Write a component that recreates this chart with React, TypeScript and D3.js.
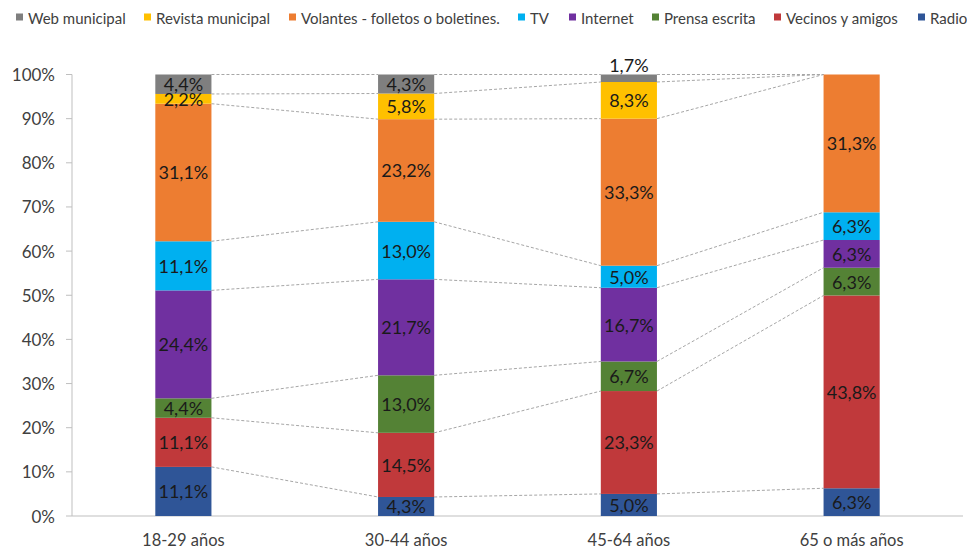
import React from "react";
import * as d3 from "d3";

const categories = ["18-29 años", "30-44 años", "45-64 años", "65 o más años"];
const seriesNames = ["Radio", "Vecinos y amigos", "Prensa escrita", "Internet", "TV", "Volantes - folletos o boletines.", "Revista municipal", "Web municipal"];
const radio = [11.1, 4.3, 5.0, 6.3];
const vecinos = [11.1, 14.5, 23.3, 43.8];
const prensa = [4.4, 13.0, 6.7, 6.3];
const internet = [24.4, 21.7, 16.7, 6.3];
const tv = [11.1, 13.0, 5.0, 6.3];
const volantes = [31.1, 23.2, 33.3, 31.3];
const revista = [2.2, 5.8, 8.3, 0];
const web = [4.4, 4.3, 1.7, 0];
const yTicks = [0, 0.1, 0.2, 0.3, 0.4, 0.5, 0.6, 0.7, 0.8, 0.9, 1.0];
const legendOrder = ["Web municipal", "Revista municipal", "Volantes - folletos o boletines.", "TV", "Internet", "Prensa escrita", "Vecinos y amigos", "Radio"];

const colors: Record<string, string> = {
  "Radio": "#2F5597",
  "Vecinos y amigos": "#C0393B",
  "Prensa escrita": "#548235",
  "Internet": "#7030A0",
  "TV": "#00B0F0",
  "Volantes - folletos o boletines.": "#ED7D31",
  "Revista municipal": "#FFC000",
  "Web municipal": "#7F7F7F",
};

const values = [radio, vecinos, prensa, internet, tv, volantes, revista, web];

const W = 967, H = 550;
const left = 72, right = 963, top = 74.5, bottom = 516;
const legendX = [16, 144, 289, 518, 569, 652, 774, 918];
const FONT = "Lato, 'Open Sans', sans-serif";

export default function App() {
  const rows = categories.map((c, i) => {
    const r: any = { cat: c };
    seriesNames.forEach((s, j) => (r[s] = values[j][i]));
    return r;
  });
  const stacked = d3.stack<any>().keys(seriesNames).offset(d3.stackOffsetExpand)(rows);
  const x = d3.scaleBand().domain(categories).range([left, right]).paddingInner(0).paddingOuter(0);
  const bw = x.bandwidth() * 0.252;
  const bx = (c: string) => (x(c) as number) + x.bandwidth() / 2 - bw / 2;
  const y = d3.scaleLinear().domain([0, 1]).range([bottom, top]);
  const fmt = (v: number) => v.toFixed(1).replace(".", ",") + "%";

  return (
    <svg width={W} height={H} style={{ position: "absolute", left: 0, top: 0, background: "#fff" }}>
      {legendOrder.map((s, i) => (
        <g key={s}>
          <rect x={legendX[i]} y={13.5} width={7} height={7} fill={colors[s]} />
          <text x={legendX[i] + 12} y={17.5} dominantBaseline="central" fontFamily={FONT} fontSize={15} fill="#404040">{s}</text>
        </g>
      ))}
      <line x1={left} x2={left} y1={top} y2={bottom} stroke="#BFBFBF" strokeWidth={1} />
      {yTicks.map((t) => (
        <g key={t}>
          <line x1={left - 6} x2={left} y1={y(t)} y2={y(t)} stroke="#BFBFBF" />
          <text x={left - 17} y={y(t)} textAnchor="end" dominantBaseline="central" fontFamily={FONT} fontSize={17} fill="#404040">{Math.round(t * 100)}%</text>
        </g>
      ))}
      <line x1={left} x2={right} y1={bottom} y2={bottom} stroke="#BFBFBF" />
      {stacked.map((layer) =>
        categories.slice(0, -1).map((c, i) => (
          <line key={layer.key + c}
            x1={bx(c) + bw} y1={y(layer[i][1])}
            x2={bx(categories[i + 1])} y2={y(layer[i + 1][1])}
            stroke="#A6A6A6" strokeWidth={1} strokeDasharray="3,2" />
        ))
      )}
      {stacked.map((layer) =>
        layer.map((d, i) => {
          const h = y(d[0]) - y(d[1]);
          if (h <= 0) return null;
          return <rect key={layer.key + i} x={bx(categories[i])} y={y(d[1])} width={bw} height={h} fill={colors[layer.key]} />;
        })
      )}
      {stacked.map((layer, j) =>
        layer.map((d, i) => {
          const v = values[j][i];
          if (!v) return null;
          const cx = bx(categories[i]) + bw / 2;
          const small = v < 2;
          const cy = small ? y(d[1]) - 10 : (y(d[0]) + y(d[1])) / 2;
          return <text key={"l" + layer.key + i} x={cx} y={cy} textAnchor="middle" dominantBaseline="central" fontFamily={FONT} fontSize={18} fill="#1a1a1a">{fmt(v)}</text>;
        })
      )}
      {categories.map((c) => (
        <text key={c} x={(x(c) as number) + x.bandwidth() / 2} y={546} textAnchor="middle" fontFamily={FONT} fontSize={16.5} fill="#404040">{c}</text>
      ))}
    </svg>
  );
}
